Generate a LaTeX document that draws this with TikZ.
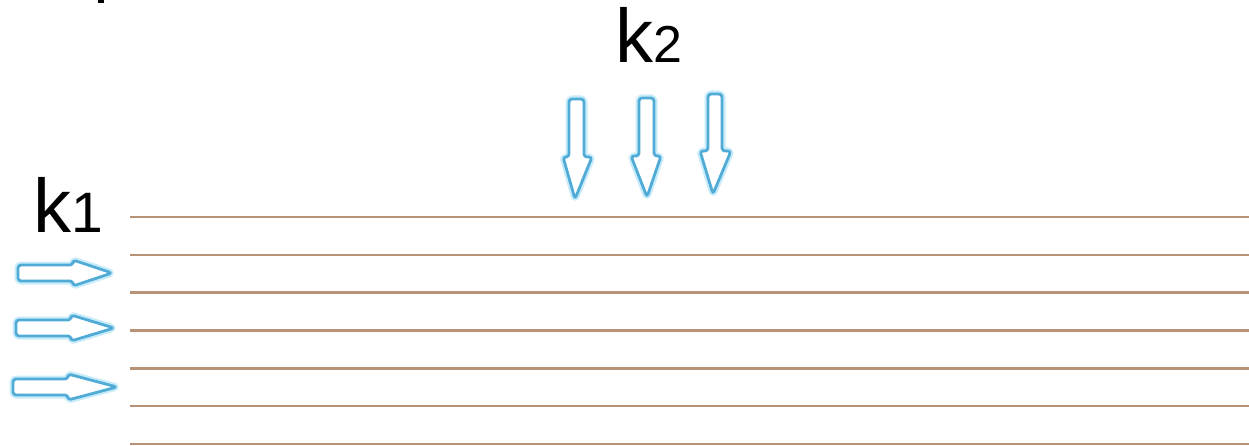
\documentclass[tikz,border=0pt]{standalone}
\usepackage{fontspec}
\setmainfont{Liberation Sans}
\definecolor{layerline}{RGB}{184,146,118}
\definecolor{beamedge}{RGB}{80,172,214}
\definecolor{beamglow}{RGB}{200,236,250}
\begin{document}
\begin{tikzpicture}[x=1pt,y=-1pt,
  layer/.style={draw=layerline,line width=2.6pt},
  beam/.style={draw=beamedge,line width=2.8pt,line join=round,rounded corners=3pt,
    fill=white,preaction={draw=beamglow,line width=7pt,line join=round}},
  wavelabel/.style={inner sep=0pt,anchor=base west,font=\fontsize{76}{76}\selectfont}]
\useasboundingbox[fill=white] (0,0) rectangle (1249,446);
\fill (98,0) rectangle (104,3);
% stacked layers
\foreach \i in {0,...,6}{
  \draw[layer] (130,{217+37.8*\i}) -- (1249,{217+37.8*\i});
}
% labels
\node[wavelabel] (k1) at (33,233) {k{\fontsize{57}{57}\selectfont 1}};
\node[wavelabel] (k2) at (615,63) {k{\fontsize{52}{52}\selectfont 2}};
% incident beams from above
\draw[beam] (569,157) -- (569,99) -- (584,99) -- (584,157) -- (592,157) -- (575,199) -- (563,157) -- cycle;
\draw[beam] (639,156) -- (639,98) -- (654,98) -- (654,156) -- (661,156) -- (647,197) -- (631,156) -- cycle;
\draw[beam] (708,151) -- (708,94) -- (722,94) -- (722,151) -- (731,151) -- (713,194) -- (700,151) -- cycle;
% incident beams from the left
\foreach \y/\a/\b in {273/18/112, 328/16/114, 387/13/117}{
  \draw[beam] (\a,\y-8) -- (\a+55,\y-8) -- (\a+55,\y-13) -- (\b,\y) -- (\a+55,\y+13) -- (\a+55,\y+8) -- (\a,\y+8) -- cycle;
}
\end{tikzpicture}
\end{document}
